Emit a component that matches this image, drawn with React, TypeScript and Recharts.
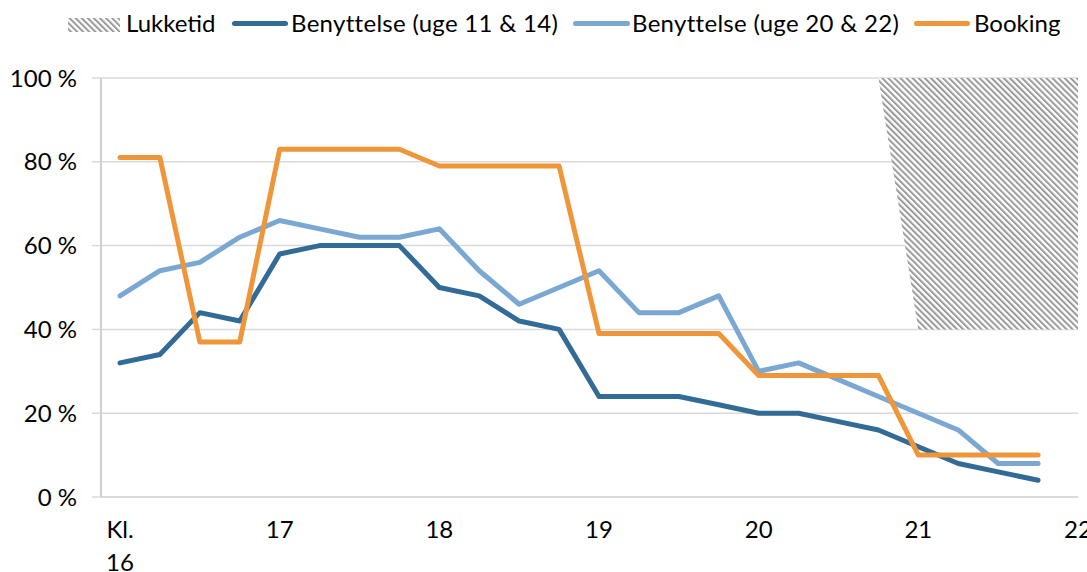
import React from 'react';
import { ComposedChart, Line, Area, XAxis, YAxis, CartesianGrid } from 'recharts';

const times = [16, 16.25, 16.5, 16.75, 17, 17.25, 17.5, 17.75, 18, 18.25, 18.5, 18.75, 19, 19.25, 19.5, 19.75, 20, 20.25, 20.5, 20.75, 21, 21.25, 21.5, 21.75, 22];
const uge1114 = [32, 34, 44, 42, 58, 60, 60, 60, 50, 48, 42, 40, 24, 24, 24, 22, 20, 20, 18, 16, 12, 8, 6, 4, null];
const uge2022 = [48, 54, 56, 62, 66, 64, 62, 62, 64, 54, 46, 50, 54, 44, 44, 48, 30, 32, 28, 24, 20, 16, 8, 8, null];
const booking = [81, 81, 37, 37, 83, 83, 83, 83, 79, 79, 79, 79, 39, 39, 39, 39, 29, 29, 29, 29, 10, 10, 10, 10, null];
const closedTimes = [20.75, 21, 21.25, 21.5, 21.75, 22];
const closedLow = [100, 40, 40, 40, 40, 40];
const closedHigh = [100, 100, 100, 100, 100, 100];
const xTicks = [16, 17, 18, 19, 20, 21, 22];
const yTicks = [0, 20, 40, 60, 80, 100];

const data = times.map((t, i) => {
  const ci = closedTimes.indexOf(t);
  return {
    t,
    a: uge1114[i],
    b: uge2022[i],
    c: booking[i],
    closed: ci >= 0 ? [closedLow[ci], closedHigh[ci]] : null,
  };
});

const FONT = 'Lato, "Noto Sans", sans-serif';
const FS = 24;
const C_DARK = '#326b96';
const C_LIGHT = '#7aa8d2';
const C_ORANGE = '#f0963a';

const XTick = (props: any) => {
  const { x, payload } = props;
  if (payload.value === 16) {
    return (
      <text x={x} textAnchor="middle" fontFamily={FONT} fontSize={FS} fill="#000">
        <tspan x={x} y={538}>Kl.</tspan>
        <tspan x={x} y={571}>16</tspan>
      </text>
    );
  }
  return (
    <text x={x} y={538} textAnchor="middle" fontFamily={FONT} fontSize={FS} fill="#000">
      {payload.value}
    </text>
  );
};

const Hatch = ({ id }: { id: string }) => (
  <pattern id={id} width="4.3" height="4.3" patternUnits="userSpaceOnUse" patternTransform="rotate(-45)">
    <rect x="0" y="0" width="4.3" height="4.3" fill="#ffffff" />
    <rect x="0" y="0" width="2" height="4.3" fill="#9a9a9a" />
  </pattern>
);

const legendText: React.CSSProperties = {
  position: 'absolute',
  top: 8,
  fontFamily: FONT,
  fontSize: FS,
  lineHeight: '30px',
  color: '#000',
  whiteSpace: 'nowrap',
};

const LineSwatch = ({ left, width, color }: { left: number; width: number; color: string }) => (
  <div style={{ position: 'absolute', left, top: 21, width, height: 5, borderRadius: 3, background: color }} />
);

export default function App() {
  return (
    <div style={{ position: 'absolute', left: 0, top: 0, width: 1087, height: 572, background: '#fff', overflow: 'hidden' }}>
      <svg style={{ position: 'absolute', left: 68, top: 18 }} width={52} height={14}>
        <defs>
          <Hatch id="hatchLegend" />
        </defs>
        <rect x={0} y={0} width={52} height={14} fill="url(#hatchLegend)" />
      </svg>
      <div style={{ ...legendText, left: 126 }}>Lukketid</div>
      <LineSwatch left={232} width={56} color={C_DARK} />
      <div style={{ ...legendText, left: 291, letterSpacing: 0.3 }}>Benyttelse (uge 11 &amp; 14)</div>
      <LineSwatch left={573} width={57} color={C_LIGHT} />
      <div style={{ ...legendText, left: 632, letterSpacing: 0.3 }}>Benyttelse (uge 20 &amp; 22)</div>
      <LineSwatch left={914} width={56} color={C_ORANGE} />
      <div style={{ ...legendText, left: 974 }}>Booking</div>

      <ComposedChart
        width={1087}
        height={572}
        data={data}
        margin={{ top: 78, right: 9, bottom: 0, left: 0 }}
        style={{ position: 'absolute', left: 0, top: 0 }}
      >
        <defs>
          <Hatch id="hatchArea" />
        </defs>
        <CartesianGrid horizontal vertical={false} stroke="#d9d9d9" strokeWidth={1.5} />
        <XAxis
          dataKey="t"
          type="number"
          domain={[15.881, 22]}
          ticks={xTicks}
          allowDataOverflow
          height={75}
          axisLine={{ stroke: '#d9d9d9', strokeWidth: 1.5 }}
          tickLine={false}
          tick={<XTick />}
          interval={0}
        />
        <YAxis
          type="number"
          domain={[0, 100]}
          ticks={yTicks}
          width={101}
          tickFormatter={(v: number) => `${v} %`}
          axisLine={{ stroke: '#bfbfbf', strokeWidth: 1.5 }}
          tickLine={{ stroke: '#d9d9d9', strokeWidth: 1.5 }}
          tickSize={9}
          tickMargin={15}
          tick={{ fontFamily: FONT, fontSize: FS, fill: '#000' }}
          interval={0}
        />
        <Area
          dataKey="closed"
          fill="url(#hatchArea)"
          fillOpacity={1}
          stroke="none"
          isAnimationActive={false}
          activeDot={false}
          dot={false}
          type="linear"
        />
        <Line dataKey="a" stroke={C_DARK} strokeWidth={5} dot={false} type="linear" strokeLinecap="round" strokeLinejoin="round" isAnimationActive={false} />
        <Line dataKey="b" stroke={C_LIGHT} strokeWidth={5} dot={false} type="linear" strokeLinecap="round" strokeLinejoin="round" isAnimationActive={false} />
        <Line dataKey="c" stroke={C_ORANGE} strokeWidth={5} dot={false} type="linear" strokeLinecap="round" strokeLinejoin="round" isAnimationActive={false} />
      </ComposedChart>
    </div>
  );
}
